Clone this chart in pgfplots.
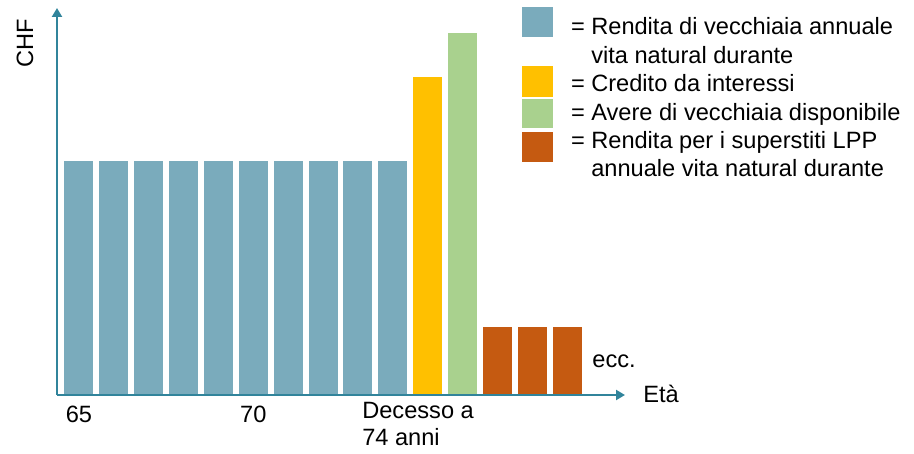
\documentclass[border=0pt]{standalone}
\usepackage{fontspec}
\setmainfont{Liberation Sans}
\usepackage{pgfplots}
\pgfplotsset{compat=1.18}
\usetikzlibrary{arrows.meta}

\definecolor{axisteal}{HTML}{31849B}
\definecolor{cblue}{HTML}{7AABBC}
\definecolor{cyellow}{HTML}{FFC000}
\definecolor{cgreen}{HTML}{A9D18E}
\definecolor{corange}{HTML}{C55A11}

\begin{document}
\begin{tikzpicture}[font=\fontsize{11.8}{13.2}\selectfont]
\path[use as bounding box] (-28.5pt,-29.5pt) rectangle (428.5pt,197.5pt);
\begin{axis}[
    at={(0,0)}, anchor=south west,
    scale only axis, width=284pt, height=193.5pt,
    xmin=-0.631, xmax=15.663, ymin=0, ymax=387,
    axis lines=left, axis on top, clip=false,
    axis line style={draw=axisteal, line width=1.2pt, -{Triangle[length=4.5pt,width=5pt]}},
    ybar, bar width=15pt, bar shift=0pt,
    ytick=\empty,
    xtick={0,5}, xticklabels={65,70},
    extra x ticks={9}, extra x tick labels={Decesso a\\74 anni},
    extra x tick style={xticklabel style={anchor=north west, align=left, xshift=-15.4pt, yshift=2pt}},
    major tick length=0pt,
    /pgf/number format/assume math mode=true,
    xticklabel style={inner sep=0pt, yshift=-5.5pt, font=\fontsize{11.8}{13.2}\selectfont},
    ylabel={CHF},
    ylabel style={at={(axis description cs:-0.0563,0.9096)}, anchor=center, inner sep=0pt, font=\fontsize{11.8}{13.2}\selectfont},
    legend cell align=left,
    legend style={at={(0.8187,0.9819)}, anchor=north west, draw=none, fill=none,
        inner sep=0pt, outer sep=0pt, row sep=0pt, column sep=0pt,
        nodes={inner sep=0pt, outer sep=0pt, text height=10pt, text depth=4.2pt},
        font=\fontsize{11.8}{14.2}\selectfont},
]

\addplot[fill=cblue, draw=white, line width=0.5pt,
    legend image code/.code={\path (0pt,0pt) (24pt,0pt);
        \fill[cblue, overlay] (0pt,-3.9pt) rectangle (15pt,10.6pt);}]
    coordinates {(0,234) (1,234) (2,234) (3,234) (4,234) (5,234) (6,234) (7,234) (8,234) (9,234)};
\addlegendentry{= Rendita di vecchiaia annuale}
\addlegendimage{empty legend}
\addlegendentry{\hphantom{= }vita natural durante}

\addplot[fill=cyellow, draw=white, line width=0.5pt,
    legend image code/.code={\path (0pt,0pt) (24pt,0pt);
        \fill[cyellow, overlay] (0pt,-5.5pt) rectangle (15pt,9.5pt);}]
    coordinates {(10,318)};
\addlegendentry{= Credito da interessi}

\addplot[fill=cgreen, draw=white, line width=0.5pt,
    legend image code/.code={\path (0pt,0pt) (24pt,0pt);
        \fill[cgreen, overlay] (0pt,-6.8pt) rectangle (15pt,7.2pt);}]
    coordinates {(11,362)};
\addlegendentry{= Avere di vecchiaia disponibile}

\addplot[fill=corange, draw=white, line width=0.5pt,
    legend image code/.code={\path (0pt,0pt) (24pt,0pt);
        \fill[corange, overlay] (0pt,-9.6pt) rectangle (15pt,4.9pt);}]
    coordinates {(12,68) (13,68) (14,68)};
\addlegendentry{= Rendita per i superstiti LPP}
\addlegendimage{empty legend}
\addlegendentry{\hphantom{= }annuale vita natural durante}

\node[anchor=base west, inner sep=0pt] at (axis cs:14.716,27) {ecc.};
\node[anchor=base west, inner sep=0pt] at (axis cs:16.18,-7) {Età};
\end{axis}
\end{tikzpicture}
\end{document}
